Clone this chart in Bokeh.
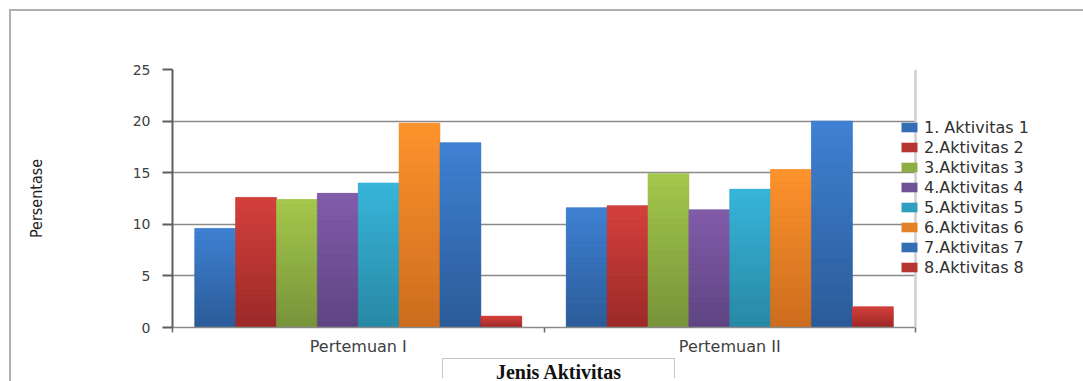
from bokeh.plotting import figure
from bokeh.layouts import column
from bokeh.models import (ColumnDataSource, FixedTicker, Legend, LegendItem, Span, Range1d, Div)
from bokeh.embed import file_html
from bokeh.resources import INLINE

# ---------------- data ----------------
categories = ["Pertemuan I", "Pertemuan II"]
series_names = ["1. Aktivitas 1", "2.Aktivitas 2", "3.Aktivitas 3", "4.Aktivitas 4",
                "5.Aktivitas 5", "6.Aktivitas 6", "7.Aktivitas 7", "8.Aktivitas 8"]
aktivitas_1 = [9.6, 11.6]
aktivitas_2 = [12.6, 11.8]
aktivitas_3 = [12.4, 14.9]
aktivitas_4 = [13.0, 11.4]
aktivitas_5 = [14.0, 13.4]
aktivitas_6 = [19.8, 15.3]
aktivitas_7 = [17.9, 20.0]
aktivitas_8 = [1.1, 2.0]
y_ticks = [0, 5, 10, 15, 20, 25]
y_label = "Persentase"
x_label = "Jenis Aktivitas"

series_values = [aktivitas_1, aktivitas_2, aktivitas_3, aktivitas_4,
                 aktivitas_5, aktivitas_6, aktivitas_7, aktivitas_8]

# ---------------- style ----------------
colors_top = ["#3f81d3", "#d4403c", "#a5c84c", "#825caa", "#38b5da", "#fd932c", "#3f81d3", "#d4403c"]
colors_bottom = ["#2b5b98", "#9a2a29", "#76933a", "#5e4482", "#2888a4", "#cc6c1e", "#2b5b98", "#9a2a29"]

W, H = 1083, 381
OFF = 11                      # outer frame: 9px margin + 2px border
FRAME_L, FRAME_R, FRAME_T, FRAME_B = 172, 915, 69, 327   # plot area, page pixels
P_BOTTOM = 358                # page y where the figure ends
PW = W - OFF
PH = P_BOTTOM - OFF
LEFT = FRAME_L - OFF
TOP = FRAME_T - OFF
BOTTOM = P_BOTTOM - FRAME_B
FRAME_H = FRAME_B - FRAME_T
NCAT = len(categories)
XMAX = NCAT * (W - FRAME_L) / (FRAME_R - FRAME_L)   # drawing frame runs to the right edge
BAR_W = 0.11
GAP = (1 - len(series_names) * BAR_W) / 2
N_SLICES = 24


def hex_to_rgb(h):
    h = h.lstrip("#")
    return tuple(int(h[i:i + 2], 16) for i in (0, 2, 4))


def mix(c1, c2, t):
    a, b = hex_to_rgb(c1), hex_to_rgb(c2)
    return "#%02x%02x%02x" % tuple(round(a[i] + (b[i] - a[i]) * t) for i in range(3))


p = figure(width=PW, height=PH, x_range=Range1d(0, XMAX), y_range=Range1d(0, 25),
           output_backend="svg", toolbar_location=None,
           min_border_left=LEFT, min_border_right=0,
           min_border_top=TOP, min_border_bottom=BOTTOM)
p.outline_line_color = None
p.background_fill_color = "white"
p.border_fill_color = "white"

legend_items = []
slices = dict(left=[], right=[], bottom=[], top=[], color=[])
for s, (name, vals) in enumerate(zip(series_names, series_values)):
    lefts = [c + GAP + s * BAR_W for c in range(NCAT)]
    rights = [l + BAR_W for l in lefts]
    src = ColumnDataSource(dict(left=lefts, right=rights, top=vals, bottom=[0] * len(vals)))
    r = p.quad(left="left", right="right", top="top", bottom="bottom", source=src,
               fill_color=mix(colors_bottom[s], colors_top[s], 0.5), line_color=None)
    legend_items.append(LegendItem(label=name, renderers=[r]))
    for c, v in enumerate(vals):
        for k in range(N_SLICES):
            slices["left"].append(lefts[c])
            slices["right"].append(rights[c])
            slices["bottom"].append(v * k / N_SLICES)
            slices["top"].append(v * (k + 1) / N_SLICES)
            slices["color"].append(mix(colors_bottom[s], colors_top[s], (k + 0.5) / N_SLICES))

p.quad(left="left", right="right", top="top", bottom="bottom", source=ColumnDataSource(slices),
       fill_color="color", line_color="color", line_width=0.6)

# ---- y axis ----
yax = p.yaxis[0]
yax.ticker = FixedTicker(ticks=y_ticks)
yax.axis_line_color = "#5e5e5e"
yax.axis_line_width = 2
yax.major_tick_line_color = "#5e5e5e"
yax.major_tick_line_width = 2
yax.major_tick_out = 10
yax.major_tick_in = 0
yax.minor_tick_line_color = None
yax.major_label_text_font = "DejaVu Sans"
yax.major_label_text_font_size = "14px"
yax.major_label_text_color = "#404040"
yax.major_label_standoff = 12
yax.axis_label = y_label
yax.axis_label_text_font = "'Liberation Sans Narrow', 'DejaVu Sans Condensed', sans-serif"
yax.axis_label_text_font_size = "16px"
yax.axis_label_text_font_style = "normal"
yax.axis_label_text_color = "#1e1e1e"
yax.axis_label_standoff = 84

# ---- x axis ----
xax = p.xaxis[0]
xax.bounds = (0, NCAT)
xax.ticker = FixedTicker(ticks=[c + 0.5 for c in range(NCAT)],
                         minor_ticks=list(range(NCAT + 1)))
xax.major_label_overrides = {c + 0.5: categories[c] for c in range(NCAT)}
xax.axis_line_color = "#8a8a8a"
xax.axis_line_width = 1.5
xax.major_tick_line_color = None
xax.major_tick_out = 0
xax.major_tick_in = 0
xax.minor_tick_line_color = "#6a6a6a"
xax.minor_tick_line_width = 1.5
xax.minor_tick_out = 5
xax.minor_tick_in = 0
xax.major_label_text_font = "DejaVu Sans"
xax.major_label_text_font_size = "16px"
xax.major_label_text_color = "#404040"
xax.major_label_standoff = 4

# ---- grid ----
p.xgrid.grid_line_color = None
p.ygrid.ticker = FixedTicker(ticks=y_ticks)
p.ygrid.grid_line_color = "#8a8a8a"
p.ygrid.grid_line_width = 1.5
p.ygrid.cross_bounds = (0, NCAT)

# right border of plot area
p.add_layout(Span(location=NCAT, dimension="height", line_color="#cfcfcf", line_width=2.5))

# ---- legend ----
legend = Legend(items=legend_items, location=(899 - FRAME_L, FRAME_H - (117 - FRAME_T) - 160),
                orientation="vertical", padding=0, margin=0, spacing=0,
                glyph_width=20, glyph_height=12, label_standoff=5,
                label_height=20, label_text_font="DejaVu Sans", label_text_font_size="16px",
                label_text_color="#303030", border_line_color=None, background_fill_alpha=0)
p.add_layout(legend, "center")

# ---- x axis title box below the figure ----
title_box = Div(
    text=('<div style="margin:0 0 0 %dpx; width:233px; height:20px; padding-top:3px; '
          'border:1px solid #c4c4c4; border-bottom:none; text-align:center; '
          'font-family:\'Liberation Serif\', serif; font-weight:bold; font-size:20px; '
          'line-height:20px; color:#111111;">%s</div>'
          % (442 - OFF, x_label)),
    width=PW, height=H - P_BOTTOM, margin=0)

layout = column(p, title_box, spacing=0, margin=(9, 0, 0, 9),
                styles={"border-top": "2px solid #b0b0b0", "border-left": "2px solid #b0b0b0",
                        "background-color": "white"})

open("out.html", "w").write(file_html(layout, INLINE))
